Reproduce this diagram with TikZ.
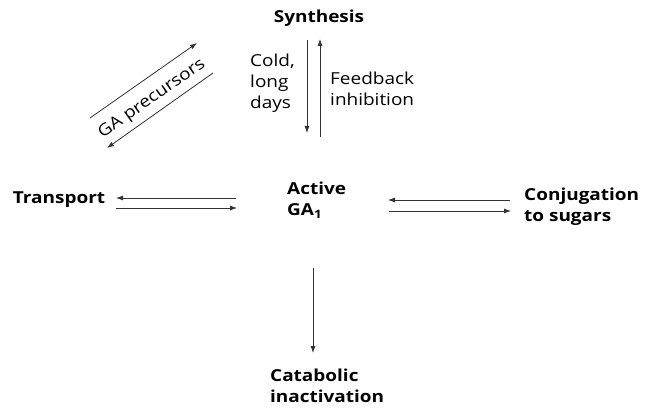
\documentclass[tikz,border=0pt]{standalone}
\usepackage{fontspec}
\setmainfont{Open Sans}[FakeStretch=1.15]
\usetikzlibrary{arrows.meta}
\begin{document}
\begin{tikzpicture}[x=1pt,y=-1pt,
  lbl/.style={font=\fontsize{16.5}{21}\selectfont\bfseries, inner sep=0pt, align=left},
  small/.style={font=\fontsize{16.5}{21}\selectfont, inner sep=0pt, align=left},
  arr/.style={draw=black!80, line width=0.8pt, -{Latex[length=7pt,width=5pt]}}]
\useasboundingbox (0,0) rectangle (646,409);
\node[lbl] (syn) at (319,18) {Synthesis};
\node[lbl, anchor=west] (act) at (287,200) {Active\\GA\textsubscript{1}};
\node[lbl] (tra) at (59,200) {Transport};
\node[lbl, anchor=west] (conj) at (524,207) {Conjugation\\to sugars};
\node[lbl, anchor=west] (cat) at (270,386) {Catabolic\\inactivation};
\node[small, anchor=west] (cold) at (250,83) {Cold,\\long\\days};
\node[small, anchor=west] (feed) at (330,89) {Feedback\\inhibition};
\node[small, rotate=35] (prec) at (152,99) {GA precursors};
% coordinates for arrow ends
\coordinate (sd1) at (307,40); \coordinate (sd2) at (307,133);
\coordinate (su1) at (320,137); \coordinate (su2) at (320,39);
\coordinate (p1) at (90,118); \coordinate (p2) at (197,43);
\coordinate (p3) at (213,73); \coordinate (p4) at (107,148);
\coordinate (t1) at (236,198); \coordinate (t2) at (116,198);
\coordinate (t3) at (116,208); \coordinate (t4) at (237,208);
\coordinate (c1) at (510,200); \coordinate (c2) at (388,200);
\coordinate (c3) at (389,211); \coordinate (c4) at (511,211);
\coordinate (k1) at (313,268); \coordinate (k2) at (313,353);
\draw[arr] (sd1) -- (sd2);
\draw[arr] (su1) -- (su2);
\draw[arr] (p1) -- (p2);
\draw[arr] (p3) -- (p4);
\draw[arr] (t1) -- (t2);
\draw[arr] (t3) -- (t4);
\draw[arr] (c1) -- (c2);
\draw[arr] (c3) -- (c4);
\draw[arr] (k1) -- (k2);
\end{tikzpicture}
\end{document}
